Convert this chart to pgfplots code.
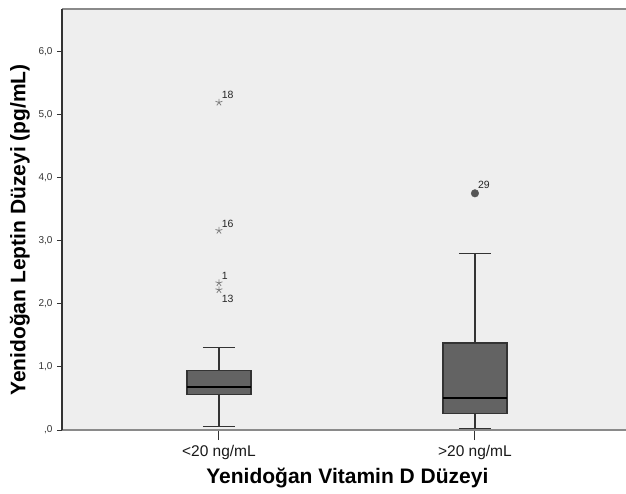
\documentclass[border=0pt]{standalone}
\usepackage{fontspec}
\setmainfont{Liberation Sans}
\usepackage{pgfplots}
\pgfplotsset{compat=1.18}
\usepgfplotslibrary{statistics}
\definecolor{bg}{HTML}{EEEEEE}
\definecolor{boxfill}{HTML}{636363}
\definecolor{edge}{HTML}{333333}
\definecolor{framec}{HTML}{8A8A8A}
\definecolor{starc}{HTML}{808080}
\definecolor{dotc}{HTML}{555555}
\begin{document}
\begin{tikzpicture}
\begin{axis}[
  scale only axis, width=564pt, height=421pt,
  xmin=0.387, xmax=2.59, ymin=0, ymax=6.67,
  axis background/.style={fill=bg},
  axis line style={draw=none},
  tick align=outside,
  boxplot/draw direction=y,
  xtick={1,2}, xticklabels={{<20 ng/mL},{>20 ng/mL}},
  xtick pos=bottom,
  xtick style={draw=edge, line width=1pt, /pgfplots/major tick length=10pt},
  ytick={0,1,2,3,4,5,6},
  yticklabels={{,0},{1,0},{2,0},{3,0},{4,0},{5,0},{6,0}},
  ytick pos=left,
  ytick style={draw=edge, line width=1pt, /pgfplots/major tick length=5pt},
  xticklabel style={font=\fontsize{15.5}{16}\selectfont, color=black!90, inner sep=1pt, yshift=-10pt},
  yticklabel style={font=\fontsize{10}{10}\selectfont, color=black!80, inner sep=1pt, xshift=-4pt},
  xlabel={Yenidoğan Vitamin D Düzeyi},
  xlabel style={at={(axis description cs:0.506,-0.128)}, anchor=base, font=\bfseries\fontsize{21}{21}\selectfont},
  ylabel={Yenidoğan Leptin Düzeyi (pg/mL)},
  ylabel style={at={(axis description cs:-0.0745,0.475)}, anchor=center, rotate=0, font=\bfseries\fontsize{21}{21}\selectfont},
  clip=false,
]
\coordinate (SW) at (rel axis cs:0,0);
\coordinate (NE) at (rel axis cs:1,1);
\draw[color=framec, line width=2pt] (rel axis cs:0,0) -- (rel axis cs:1,0);
\draw[color=framec, line width=2pt] (rel axis cs:0,1) -- (rel axis cs:1,1);
\draw[color=edge, line width=1.2pt] (rel axis cs:0,0) -- (rel axis cs:0,1);

\addplot[boxplot prepared={draw position=1, lower whisker=0.05, lower quartile=0.56,
  median=0.68, upper quartile=0.94, upper whisker=1.31, box extend=0.25, whisker extend=0.125},
  draw=edge, line width=1.3pt,
  boxplot/every box/.style={fill=boxfill, draw=edge},
  boxplot/every median/.style={draw=black, line width=2.6pt}] coordinates {};
\addplot[boxplot prepared={draw position=2, lower whisker=0.02, lower quartile=0.26,
  median=0.51, upper quartile=1.38, upper whisker=2.80, box extend=0.25, whisker extend=0.125},
  draw=edge, line width=1.3pt,
  boxplot/every box/.style={fill=boxfill, draw=edge},
  boxplot/every median/.style={draw=black, line width=2.6pt}] coordinates {};

\addplot[only marks, mark=star, mark size=3.6pt, color=starc, line width=0.8pt,
  nodes near coords, point meta=explicit symbolic,
  nodes near coords style={font=\fontsize{10.5}{11}\selectfont, color=black!85, anchor=south west, inner sep=0pt, xshift=2.5pt, yshift=3pt}]
  table[meta=label] {
x y label
1 5.19 18
1 3.16 16
1 2.33 1
};
\addplot[only marks, mark=star, mark size=3.6pt, color=starc, line width=0.8pt,
  nodes near coords, point meta=explicit symbolic,
  nodes near coords style={font=\fontsize{10.5}{11}\selectfont, color=black!85, anchor=north west, inner sep=0pt, xshift=2.5pt, yshift=-5pt}]
  table[meta=label] {
x y label
1 2.22 13
};
\addplot[only marks, mark=*, mark size=3.8pt, color=dotc,
  nodes near coords, point meta=explicit symbolic,
  nodes near coords style={font=\fontsize{10.5}{11}\selectfont, color=black!85, anchor=south west, inner sep=0pt, xshift=3pt, yshift=5pt}]
  table[meta=label] {
x y label
2 3.75 29
};
\end{axis}
\pgfresetboundingbox
\path ([shift={(-62pt,-63pt)}]SW) rectangle ([shift={(0pt,9pt)}]NE);
\end{tikzpicture}
\end{document}
